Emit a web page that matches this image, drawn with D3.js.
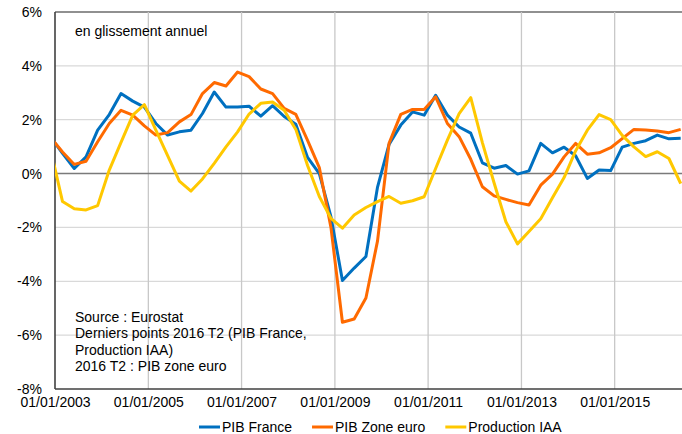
<!DOCTYPE html>
<html>
<head>
<meta charset="utf-8">
<script src="https://cdn.jsdelivr.net/npm/d3@7"></script>
<style>
  html, body { margin: 0; padding: 0; background: #fff; }
  svg { display: block; font-family: "Liberation Sans", Arial, sans-serif; }
</style>
</head>
<body>
<svg id="chart" width="682" height="434"></svg>
<script>
// ---------- data ----------
// quarterly points, first one is 2002 T4 (only its segment into the frame shows)
const FIRST_QUARTER = { year: 2002, q: 4 };
const pibFrance = [
  1.34, 0.75, 0.19, 0.62, 1.61, 2.19, 2.97, 2.69, 2.47, 1.86, 1.43, 1.55, 1.61, 2.23,
  3.03, 2.47, 2.47, 2.50, 2.13, 2.52, 2.12, 1.83, 0.60, 0.00, -1.60, -3.97, -3.51, -3.08,
  -0.50, 1.08, 1.80, 2.29, 2.17, 2.91, 2.17, 1.73, 1.50, 0.40, 0.20, 0.30, -0.02, 0.10,
  1.12, 0.77, 0.98, 0.66, -0.18, 0.13, 0.11, 0.98, 1.12, 1.22, 1.43, 1.29, 1.31
];
const pibZoneEuro = [
  1.32, 0.80, 0.34, 0.46, 1.18, 1.86, 2.35, 2.17, 1.77, 1.43, 1.52, 1.92, 2.19, 2.97,
  3.38, 3.25, 3.77, 3.60, 3.14, 2.97, 2.42, 2.20, 1.23, 0.22, -2.00, -5.52, -5.40, -4.62,
  -2.50, 1.12, 2.20, 2.38, 2.38, 2.85, 1.86, 1.37, 0.53, -0.49, -0.83, -0.96, -1.08, -1.17,
  -0.43, -0.02, 0.62, 1.12, 0.72, 0.77, 0.96, 1.30, 1.64, 1.62, 1.58, 1.52, 1.64
];
const productionIAA = [
  0.82, -1.04, -1.31, -1.35, -1.19, 0.13, 1.16, 2.17, 2.56, 1.61, 0.67, -0.28, -0.65, -0.20,
  0.38, 0.99, 1.55, 2.21, 2.61, 2.66, 2.35, 1.64, 0.30, -0.85, -1.66, -2.03, -1.54, -1.26,
  -1.04, -0.85, -1.10, -1.01, -0.86, 0.19, 1.24, 2.23, 2.82, 1.15, -0.35, -1.79, -2.61, -2.15,
  -1.68, -0.90, -0.15, 0.84, 1.61, 2.19, 2.00, 1.42, 0.99, 0.63, 0.81, 0.56, -0.37
];
const seriesNames = ["PIB France", "PIB Zone euro", "Production IAA"];
const seriesColors = ["#0070c0", "#ff6a00", "#ffc800"];
const yTicks = [-8, -6, -4, -2, 0, 2, 4, 6];
const xTickYears = [2003, 2005, 2007, 2009, 2011, 2013, 2015];
const noteTitle = "en glissement annuel";
const sourceLines = [
  "Source : Eurostat",
  "Derniers points 2016 T2 (PIB France,",
  "Production IAA)",
  "2016 T2 : PIB zone euro"
];

// points sit on the 1st of the quarter's last month
const dates = pibFrance.map((_, i) =>
  new Date(FIRST_QUARTER.year, (FIRST_QUARTER.q - 1) * 3 + 2 + 3 * i, 1));
const series = [pibFrance, pibZoneEuro, productionIAA].map((vals, s) => ({
  name: seriesNames[s],
  color: seriesColors[s],
  points: vals.map((v, i) => ({ d: dates[i], v }))
}));

// ---------- sizing ----------
const svg = d3.select("#chart");
const H = 434;
const FS = 14;
const plot = { left: 55, top: 12, right: 682, bottom: 389 };

const x = d3.scaleTime()
  .domain([new Date(2003, 0, 1), new Date(2017, 0, 1)])
  .range([plot.left, 708]);
const y = d3.scaleLinear().domain([-8, 6]).range([plot.bottom, plot.top]);

svg.append("defs").append("clipPath").attr("id", "plotClip")
  .append("rect")
  .attr("x", plot.left).attr("y", 0)
  .attr("width", plot.right - plot.left).attr("height", H);

// ---------- grid ----------
const gridG = svg.append("g");
gridG.selectAll("line.hgrid").data(yTicks.filter(t => t !== 0 && t !== -8)).join("line")
  .attr("class", "hgrid")
  .attr("x1", plot.left).attr("x2", plot.right)
  .attr("y1", d => y(d)).attr("y2", d => y(d))
  .attr("stroke", d => d === 6 ? "#6b6b6b" : "#d9d9d9")
  .attr("stroke-width", 1.3);

const xTickDates = xTickYears.map(yr => new Date(yr, 0, 1));
gridG.selectAll("line.vgrid").data(xTickDates.slice(1)).join("line")
  .attr("class", "vgrid")
  .attr("x1", d => x(d)).attr("x2", d => x(d))
  .attr("y1", plot.top).attr("y2", plot.bottom)
  .attr("stroke", "#c8c8c8")
  .attr("stroke-width", 1.3);

// zero line
gridG.append("line")
  .attr("x1", plot.left).attr("x2", plot.right)
  .attr("y1", y(0)).attr("y2", y(0))
  .attr("stroke", "#7a7a7a").attr("stroke-width", 1.6);

// ---------- axes ----------
const yAxis = d3.axisLeft(y).tickValues(yTicks).tickSize(0).tickPadding(13)
  .tickFormat(d => d + "%");
const yAxisG = svg.append("g").attr("transform", `translate(${plot.left},0)`).call(yAxis);
yAxisG.select(".domain").remove();
yAxisG.selectAll("text")
  .attr("font-family", "Liberation Sans, Arial, sans-serif")
  .attr("font-size", FS).attr("fill", "#000");

const xAxis = d3.axisBottom(x).tickValues(xTickDates).tickSize(0).tickPadding(8)
  .tickFormat(d3.timeFormat("%d/%m/%Y"));
const xAxisG = svg.append("g").attr("transform", `translate(0,${plot.bottom})`).call(xAxis);
xAxisG.select(".domain").remove();
xAxisG.selectAll("text")
  .attr("font-family", "Liberation Sans, Arial, sans-serif")
  .attr("font-size", FS).attr("fill", "#000");

// frame lines (left + bottom)
svg.append("line")
  .attr("x1", plot.left).attr("x2", plot.left)
  .attr("y1", plot.top).attr("y2", plot.bottom)
  .attr("stroke", "#404040").attr("stroke-width", 1.6);
svg.append("line")
  .attr("x1", plot.left).attr("x2", plot.right)
  .attr("y1", plot.bottom).attr("y2", plot.bottom)
  .attr("stroke", "#404040").attr("stroke-width", 1.6);

// ---------- lines ----------
const line = d3.line().x(p => x(p.d)).y(p => y(p.v));
svg.append("g").attr("clip-path", "url(#plotClip)")
  .selectAll("path.series").data(series).join("path")
  .attr("class", "series")
  .attr("d", s => line(s.points))
  .attr("fill", "none")
  .attr("stroke", s => s.color)
  .attr("stroke-width", 3)
  .attr("stroke-linejoin", "round");

// ---------- notes ----------
svg.append("text")
  .attr("x", 75).attr("y", 36)
  .attr("font-size", FS).attr("fill", "#000")
  .text(noteTitle);

svg.append("g").selectAll("text").data(sourceLines).join("text")
  .attr("x", 75).attr("y", (d, i) => 322 + i * 16.3)
  .attr("font-size", FS).attr("fill", "#000")
  .text(d => d);

// ---------- legend ----------
const legendG = svg.append("g").attr("transform", "translate(199,427)");
let lx = 0;
series.forEach(s => {
  legendG.append("line")
    .attr("x1", lx).attr("x2", lx + 21).attr("y1", 0).attr("y2", 0)
    .attr("stroke", s.color).attr("stroke-width", 3);
  const t = legendG.append("text")
    .attr("x", lx + 23).attr("y", 5)
    .attr("font-size", FS).attr("fill", "#000")
    .text(s.name);
  lx += 23 + t.node().getComputedTextLength() + 20;
});
</script>
</body>
</html>
